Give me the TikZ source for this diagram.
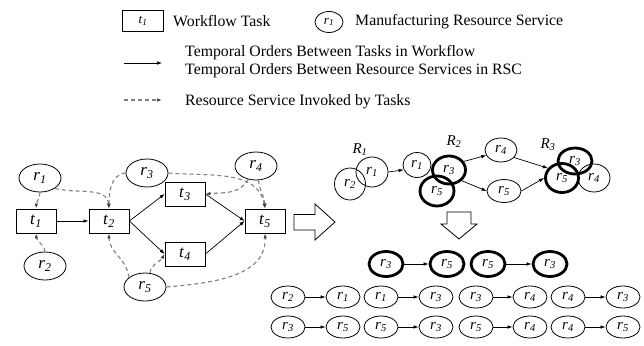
\documentclass[tikz,border=0pt]{standalone}
\usepackage{fontspec}
\setmainfont{Liberation Serif}
\usetikzlibrary{shapes.geometric,arrows.meta}
% italic symbol with an italic subscript
\newcommand\rlab[2]{\textit{#1}\textsubscript{\textit{#2}}}
\tikzset{
  txt/.style={inner sep=0pt, anchor=west, font=\fontsize{15.8}{18}\selectfont},
  task/.style={draw, line width=0.8pt, minimum width=40pt, minimum height=24pt,
    inner sep=0pt, font=\fontsize{17}{17}\selectfont},
  res/.style={draw, ellipse, line width=0.8pt, minimum width=42pt, minimum height=28pt,
    inner sep=0pt, font=\fontsize{17}{17}\selectfont},
  rs/.style={draw, ellipse, line width=0.8pt, minimum width=34pt, minimum height=22pt,
    inner sep=0pt, font=\fontsize{15}{15}\selectfont},
  rsc/.style={rs, line width=2.8pt},
  order/.style={line width=0.7pt, -{Latex[length=5pt,width=3.6pt]}},
  invoke/.style={draw=gray, line width=1.1pt, dash pattern=on 4pt off 3pt,
    -{Latex[length=5pt,width=3.6pt,color=black!75]}},
  hollow/.style={draw, line width=0.8pt, fill=white, line join=miter},
}
\begin{document}
\begin{tikzpicture}[x=1pt,y=1pt]
\useasboundingbox (0,0) rectangle (644,-345);

% ---------- legend ----------
\node[task, minimum width=41pt, minimum height=21pt, font=\fontsize{13}{13}\selectfont] (lt) at (143,-21) {\rlab{t}{1}};
\node[txt] (ltx) at (173,-21) {Workflow Task};
\node[rs, minimum width=28pt, minimum height=21pt, font=\fontsize{13}{13}\selectfont] (lr) at (329,-22) {\rlab{r}{1}};
\node[txt] (lrx) at (355,-22) {Manufacturing Resource Service};
\coordinate (la1) at (124,-63);
\coordinate (la2) at (162,-63);
\draw[order] (la1) -- (la2);
\node[txt, align=left] (lox) at (185,-62) {Temporal Orders Between Tasks in Workflow\\Temporal Orders Between Resource Services in RSC};
\coordinate (lb1) at (124,-100);
\coordinate (lb2) at (162,-100);
\draw[invoke] (lb1) -- (lb2);
\node[txt] (lbx) at (185,-102) {Resource Service Invoked by Tasks};

% ---------- workflow with invoked services ----------
\node[task] (t1) at (36,-221) {\rlab{t}{1}};
\node[task] (t2) at (109,-221) {\rlab{t}{2}};
\node[task] (t3) at (185,-194) {\rlab{t}{3}};
\node[task] (t4) at (185,-254) {\rlab{t}{4}};
\node[task] (t5) at (265,-221) {\rlab{t}{5}};
\node[res] (r1) at (40,-178) {\rlab{r}{1}};
\node[res] (r2) at (45,-266) {\rlab{r}{2}};
\node[res] (r3) at (147,-173) {\rlab{r}{3}};
\node[res] (r4) at (256,-166) {\rlab{r}{4}};
\node[res] (r5) at (145,-287) {\rlab{r}{5}};

\draw[order] (t1) -- (t2);
\draw[order] (t2.east) -- (t3.west);
\draw[order] (t2.east) -- (t4.west);
\draw[order] (t3.east) -- (t5.west);
\draw[order] (t4.east) -- (t5.west);

\draw[invoke] (r1.south) to[out=-95,in=85] (t1.north);
\draw[invoke] (r1.-35) to[out=-15,in=95] (t2.north);
\draw[invoke] (r2.north) to[out=100,in=-85] (t1.south);
\draw[invoke] (r3.west) to[out=185,in=90] (t2.north);
\draw[invoke] (r3.east) to[out=-5,in=100] (t5.north);
\draw[invoke] (r4.-120) to[out=-120,in=5] (t3.east);
\draw[invoke] (r4.-80) to[out=-85,in=90] (t5.north);
\draw[invoke] (r5.150) to[out=95,in=-90] (t2.south);
\draw[invoke] (r5.70) to[out=85,in=-120] (t4.west);
\draw[invoke] (r5.east) to[out=5,in=-88] (t5.south);

% transformation arrows
\draw[hollow] (294,-214.5) -- (315,-214.5) -- (315,-204) -- (335,-222) -- (315,-240)
  -- (315,-230) -- (294,-230) -- cycle;
\draw[hollow] (447,-212) -- (471,-212) -- (471,-224) -- (477,-224) -- (459,-239)
  -- (441,-224) -- (447,-224) -- cycle;

% ---------- resource service chain ----------
\node[font=\fontsize{15}{15}\selectfont] (R1) at (360,-150) {\rlab{R}{1}};
\node[rs, minimum width=31pt, minimum height=32pt] (ga2) at (350,-184) {\rlab{r}{2}};
\node[rs, minimum width=32pt, minimum height=30pt] (ga1) at (372,-172) {\rlab{r}{1}};

\node[font=\fontsize{15}{15}\selectfont] (R2) at (454,-142) {\rlab{R}{2}};
\node[rs, minimum width=28pt, minimum height=25pt] (gb1) at (417,-165) {\rlab{r}{1}};
\node[rsc, minimum width=33pt, minimum height=28pt] (gb3) at (449,-170) {\rlab{r}{3}};
\node[rsc, minimum width=34pt, minimum height=30pt] (gb5) at (437,-191) {\rlab{r}{5}};

\node[rs, minimum width=32pt, minimum height=24pt] (p4) at (501,-150) {\rlab{r}{4}};
\node[rs, minimum width=34pt, minimum height=23pt] (p5) at (504,-191) {\rlab{r}{5}};

\node[font=\fontsize{15}{15}\selectfont] (R3) at (548,-145) {\rlab{R}{3}};
\node[rs, minimum width=32pt, minimum height=28pt] (gc4) at (594,-178) {\rlab{r}{4}};
\node[rsc, minimum width=34pt, minimum height=26pt] (gc3) at (575,-161) {\rlab{r}{3}};
\node[rsc, minimum width=33pt, minimum height=29pt] (gc5) at (562,-178) {\rlab{r}{5}};

\draw[order] (ga1.east) -- (gb1.200);
\draw[order] (gb3.30) -- (p4.200);
\draw[order] (gb3.-40) -- (p5.west);
\draw[order] (p4.-30) -- (gc5.145);
\draw[order] (p5.east) -- (gc5.west);

% ---------- temporal order pairs ----------
\node[rsc, minimum height=25pt] (a1) at (386,-264) {\rlab{r}{3}};
\node[rsc, minimum height=25pt] (a2) at (447,-264) {\rlab{r}{5}};
\node[rsc, minimum height=25pt] (a3) at (488,-264) {\rlab{r}{5}};
\node[rsc, minimum height=25pt] (a4) at (550,-264) {\rlab{r}{3}};
\draw[order] (a1.east) -- (a2.west);
\draw[order] (a3.east) -- (a4.west);

\node[rs] (b1) at (288,-297) {\rlab{r}{2}};
\node[rs] (b2) at (343,-297) {\rlab{r}{1}};
\node[rs] (b3) at (381,-297) {\rlab{r}{1}};
\node[rs] (b4) at (436,-297) {\rlab{r}{3}};
\node[rs] (b5) at (476,-297) {\rlab{r}{3}};
\node[rs] (b6) at (530,-297) {\rlab{r}{4}};
\node[rs] (b7) at (568,-297) {\rlab{r}{4}};
\node[rs] (b8) at (623,-297) {\rlab{r}{3}};
\draw[order] (b1.east) -- (b2.west);
\draw[order] (b3.east) -- (b4.west);
\draw[order] (b5.east) -- (b6.west);
\draw[order] (b7.east) -- (b8.west);

\node[rs] (c1) at (288,-327) {\rlab{r}{3}};
\node[rs] (c2) at (343,-327) {\rlab{r}{5}};
\node[rs] (c3) at (381,-327) {\rlab{r}{5}};
\node[rs] (c4) at (436,-327) {\rlab{r}{3}};
\node[rs] (c5) at (476,-327) {\rlab{r}{5}};
\node[rs] (c6) at (530,-327) {\rlab{r}{4}};
\node[rs] (c7) at (568,-327) {\rlab{r}{4}};
\node[rs] (c8) at (623,-327) {\rlab{r}{5}};
\draw[order] (c1.east) -- (c2.west);
\draw[order] (c3.east) -- (c4.west);
\draw[order] (c5.east) -- (c6.west);
\draw[order] (c7.east) -- (c8.west);
\end{tikzpicture}
\end{document}
